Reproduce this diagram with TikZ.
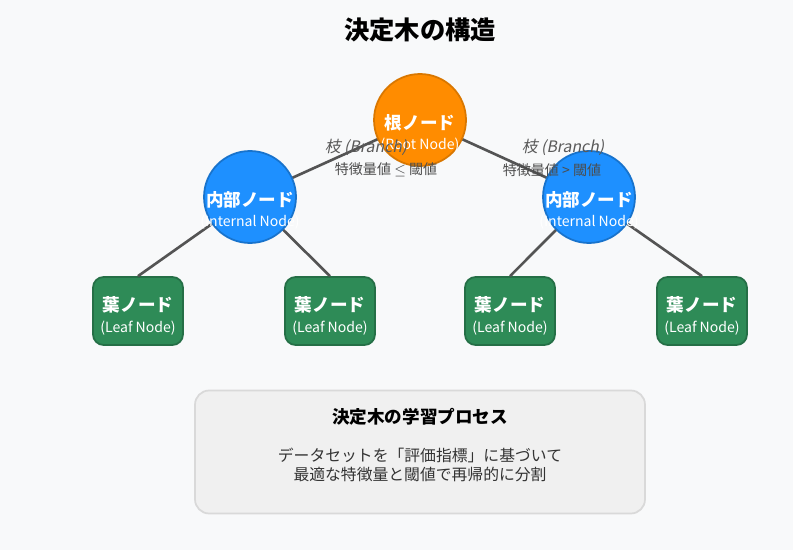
\documentclass[tikz,border=0pt]{standalone}
\usepackage{fontspec}
\setmainfont{Noto Sans CJK JP}
\newfontfamily\slantcjk{Noto Sans CJK JP}[FakeSlant=0.2]
\usetikzlibrary{positioning}
\definecolor{rootc}{HTML}{FF8C00}
\definecolor{innc}{HTML}{1E90FF}
\definecolor{leafc}{HTML}{2E8B57}
\definecolor{bgc}{HTML}{F8F9FA}
\begin{document}
\begin{tikzpicture}[x=0.02cm, y=-0.02cm,
    tnode/.style={circle, minimum size=1.84cm, inner sep=0pt, align=center, text=white, line width=1pt},
    leaf/.style={draw=leafc!80!black, fill=leafc, rounded corners=6pt, minimum width=1.8cm,
                 minimum height=1.36cm, align=center, text=white, line width=1pt},
    branch/.style={draw=black!67, line width=1.5pt},
    blabel/.style={font=\small\slantcjk, text=black!65},
    clabel/.style={font=\footnotesize, text=black!70}]
    \fill[bgc] (0,0) rectangle (793,550);
    % title
    \node[font=\Large\bfseries] (title) at (420,30) {決定木の構造};
    % tree nodes
    \coordinate (r) at (420,120);
    \coordinate (i1) at (250,197);
    \coordinate (i2) at (589,197);
    \node[leaf] (l1) at (138,311) {};
    \node[leaf] (l2) at (330,311) {};
    \node[leaf] (l3) at (510,311) {};
    \node[leaf] (l4) at (702,311) {};
    % branches
    \draw[branch] (r) -- (i1);
    \draw[branch] (r) -- (i2);
    \draw[branch] (i1) -- (l1.north);
    \draw[branch] (i1) -- (l2.north);
    \draw[branch] (i2) -- (l3.north);
    \draw[branch] (i2) -- (l4.north);
    \node[tnode, draw=rootc!85!black, fill=rootc] (root) at (r) {};
    \node[tnode, draw=innc!80!black, fill=innc] (in1) at (i1) {};
    \node[tnode, draw=innc!80!black, fill=innc] (in2) at (i2) {};
    % node texts
    \foreach \n/\main/\sub in {root/根ノード/Root Node, in1/内部ノード/Internal Node, in2/内部ノード/Internal Node}{
        \node[text=white, font=\bfseries] at ([yshift=-0.06cm]\n) {\main};
        \node[text=white, font=\footnotesize] at ([yshift=-0.5cm]\n) {(\sub)};
    }
    \foreach \n in {l1,l2,l3,l4}{
        \node[text=white, font=\bfseries] at ([yshift=0.12cm]\n) {葉ノード};
        \node[text=white, font=\footnotesize] at ([yshift=-0.34cm]\n) {(Leaf Node)};
    }
    % branch labels
    \node[blabel] (b1) at (366,147) {枝 (Branch)};
    \node[clabel] (c1) at (386,170) {特徴量値 $\leq$ 閾値};
    \node[blabel] (b2) at (563,147) {枝 (Branch)};
    \node[clabel] (c2) at (552,170) {特徴量値 > 閾値};
    % process box
    \node[draw=black!15, fill=black!6, rounded corners=8pt, line width=1pt,
          minimum width=9cm, minimum height=2.46cm] (proc) at (420,452) {};
    \node[font=\normalsize\bfseries] (ptitle) at (420,417) {決定木の学習プロセス};
    \node[font=\small, align=center, text=black!80] (ptext) at (420,465)
        {データセットを「評価指標」に基づいて\\最適な特徴量と閾値で再帰的に分割};
\end{tikzpicture}
\end{document}
